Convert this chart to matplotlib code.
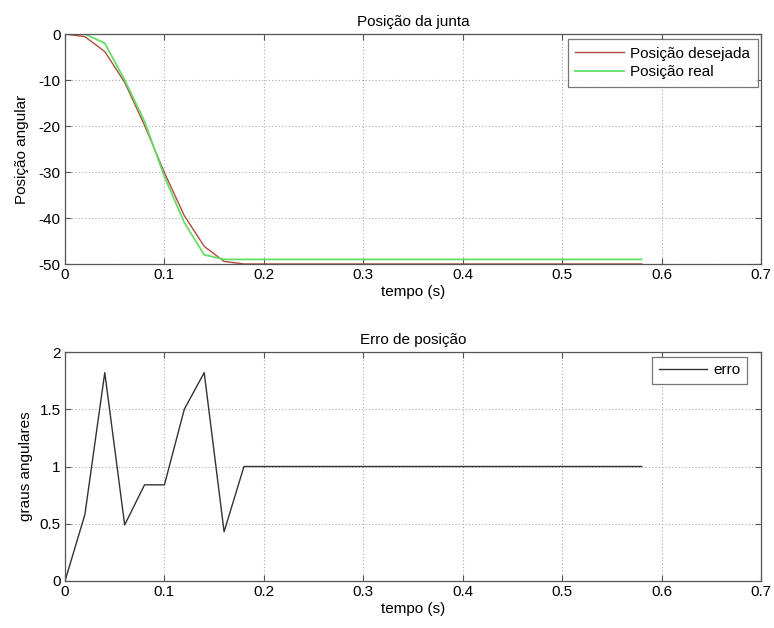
import matplotlib
matplotlib.use("Agg")
import matplotlib.pyplot as plt

plt.rcParams['font.family'] = ['Liberation Sans', 'DejaVu Sans']
plt.rcParams['axes.unicode_minus'] = False

tempo = [0.00, 0.02, 0.04, 0.06, 0.08, 0.10, 0.12, 0.14, 0.16, 0.18,
         0.20, 0.22, 0.24, 0.26, 0.28, 0.30, 0.32, 0.34, 0.36, 0.38,
         0.40, 0.42, 0.44, 0.46, 0.48, 0.50, 0.52, 0.54, 0.56, 0.58]
pos_desejada = [0.0, -0.58, -3.82, -10.49, -19.84, -30.16, -39.5, -46.16, -49.43, -50.0,
                -50.0, -50.0, -50.0, -50.0, -50.0, -50.0, -50.0, -50.0, -50.0, -50.0,
                -50.0, -50.0, -50.0, -50.0, -50.0, -50.0, -50.0, -50.0, -50.0, -50.0]
pos_real = [0.0, 0.0, -2.0, -10.0, -19.0, -31.0, -41.0, -48.0, -49.0, -49.0,
            -49.0, -49.0, -49.0, -49.0, -49.0, -49.0, -49.0, -49.0, -49.0, -49.0,
            -49.0, -49.0, -49.0, -49.0, -49.0, -49.0, -49.0, -49.0, -49.0, -49.0]
erro = [0.0, 0.58, 1.82, 0.49, 0.84, 0.84, 1.5, 1.82, 0.43, 1.0,
        1.0, 1.0, 1.0, 1.0, 1.0, 1.0, 1.0, 1.0, 1.0, 1.0,
        1.0, 1.0, 1.0, 1.0, 1.0, 1.0, 1.0, 1.0, 1.0, 1.0]

xticks = [0, 0.1, 0.2, 0.3, 0.4, 0.5, 0.6, 0.7]
xticklabels = ['0', '0.1', '0.2', '0.3', '0.4', '0.5', '0.6', '0.7']
yticks_top = [0, -10, -20, -30, -40, -50]
yticks_bot = [0, 0.5, 1, 1.5, 2]
yticklabels_bot = ['0', '0.5', '1', '1.5', '2']

fig = plt.figure(figsize=(7.74, 6.28), dpi=100)
L = 65 / 774
W = (761 - 65) / 774
ax1 = fig.add_axes([L, 1 - 264 / 628, W, (264 - 34) / 628])
ax2 = fig.add_axes([L, 1 - 581 / 628, W, (581 - 352) / 628])

fs = 11
edge = '#555555'

def style(ax):
    ax.grid(True, linestyle=(0, (1, 2)), color='#aaaaaa', linewidth=0.8)
    ax.tick_params(direction='in', length=4, labelsize=fs, color=edge, top=True, right=True,
                   labeltop=False, labelright=False, pad=3)
    for s in ax.spines.values():
        s.set_color(edge)
        s.set_linewidth(0.9)
    ax.set_xlim(0, 0.7)
    ax.set_xticks(xticks)
    ax.set_xticklabels(xticklabels)

ax1.plot(tempo, pos_desejada, color='#b04a40', linewidth=1.0, label='Posição desejada')
ax1.plot(tempo, pos_real, color='#66dd66', linewidth=1.3, label='Posição real')
style(ax1)
ax1.set_ylim(-50, 0)
ax1.set_yticks(yticks_top)
ax1.set_title('Posição da junta', fontsize=fs, pad=6)
ax1.set_xlabel('tempo (s)', fontsize=fs, labelpad=2)
ax1.set_ylabel('Posição angular', fontsize=fs, labelpad=7)
leg1 = ax1.legend(loc='upper right', bbox_to_anchor=(0.9957, 0.978), fontsize=fs,
                  frameon=True, fancybox=False, edgecolor=edge, borderaxespad=0.0,
                  handlelength=3.2, borderpad=0.5, labelspacing=0.3, handletextpad=0.4)
leg1.get_frame().set_linewidth(0.9)

ax2.plot(tempo, erro, color='#333333', linewidth=1.0, label='erro')
style(ax2)
ax2.set_ylim(0, 2)
ax2.set_yticks(yticks_bot)
ax2.set_yticklabels(yticklabels_bot)
ax2.set_title('Erro de posição', fontsize=fs, pad=6)
ax2.set_xlabel('tempo (s)', fontsize=fs, labelpad=2)
ax2.set_ylabel('graus angulares', fontsize=fs, labelpad=5)
leg2 = ax2.legend(loc='upper right', bbox_to_anchor=(0.980, 0.978), fontsize=fs,
                  frameon=True, fancybox=False, edgecolor=edge, borderaxespad=0.0,
                  handlelength=3.2, borderpad=0.42, labelspacing=0.3, handletextpad=0.4)
leg2.get_frame().set_linewidth(0.9)

fig.savefig('out.png', dpi=100, facecolor='white')
